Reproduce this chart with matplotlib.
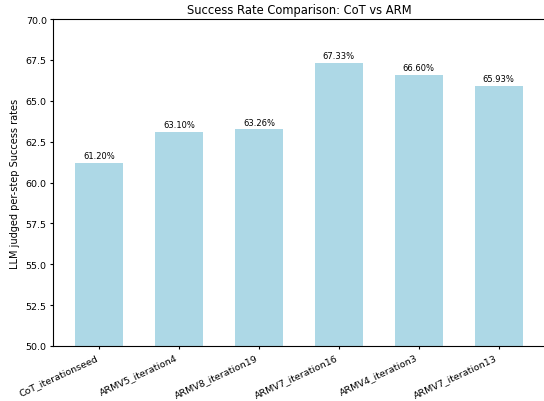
import matplotlib
matplotlib.use("Agg")
import matplotlib.pyplot as plt

models = ["CoT_iterationseed", "ARMV5_iteration4", "ARMV8_iteration19",
          "ARMV7_iteration16", "ARMV4_iteration3", "ARMV7_iteration13"]
success_rates = [61.20, 63.10, 63.26, 67.33, 66.60, 65.93]

fig = plt.figure(figsize=(5.44, 4.02), dpi=100)
ax = fig.add_axes([53/544, 55/402, 492/544, 327/402])

bars = ax.bar(models, success_rates, color="lightblue", width=0.6)
for bar, val in zip(bars, success_rates):
    ax.text(bar.get_x() + bar.get_width() / 2, val + 0.15, f"{val:.2f}%",
            ha="center", va="bottom", fontsize=6)

ax.set_ylim(50, 70)
ax.set_title("Success Rate Comparison: CoT vs ARM", fontsize=8.3, pad=4)
ax.set_ylabel("LLM judged per-step Success rates", fontsize=7, labelpad=4)
ax.tick_params(labelsize=6.8, length=2.5, pad=2)
plt.setp(ax.get_xticklabels(), rotation=25, ha="right")

fig.savefig("out.png", dpi=100)
